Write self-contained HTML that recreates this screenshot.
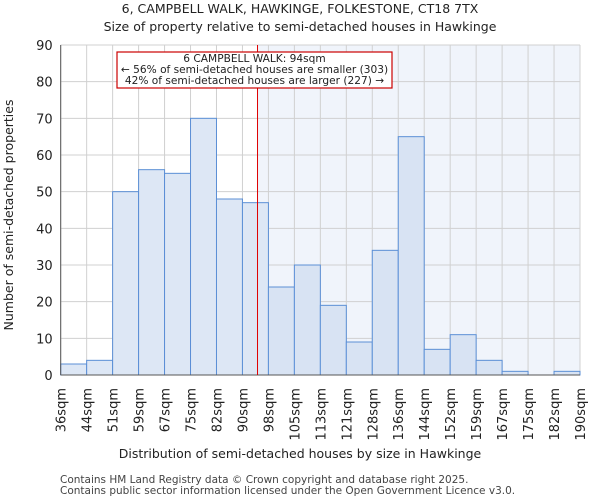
<!DOCTYPE html>
<html><head><meta charset="utf-8"><style>
body{margin:0;background:#fff;font-family:"DejaVu Sans","Liberation Sans",sans-serif;}
</style></head><body>
<svg width="600" height="500" xmlns="http://www.w3.org/2000/svg" font-family="DejaVu Sans, Liberation Sans, sans-serif">
<g id="root"></g>
</svg>
<script>
const categories=["36sqm","44sqm","51sqm","59sqm","67sqm","75sqm","82sqm","90sqm","98sqm","105sqm","113sqm","121sqm","128sqm","136sqm","144sqm","152sqm","159sqm","167sqm","175sqm","182sqm","190sqm"];
const counts=[3,4,50,56,55,70,48,47,24,30,19,9,34,65,7,11,4,1,0,1];
const yTicks=[0,10,20,30,40,50,60,70,80,90];
const markerBin=7.58;
const L=60.7,R=580,T=45,B=375,yMax=90;
const bw=(R-L)/counts.length;
const x=i=>L+i*bw;
const y=v=>B-(v/yMax)*(B-T);
const NS="http://www.w3.org/2000/svg";
const root=document.getElementById('root');
function mk(t,a,txt){const e=document.createElementNS(NS,t);for(const k in a)e.setAttribute(k,a[k]);if(txt!=null)e.textContent=txt;root.appendChild(e);return e;}
const mx=x(markerBin);
let e;
e=mk('rect',{x:mx,y:T,width:R-mx,height:B-T,fill:'#f0f4fb'});


for(let i=0;i<=counts.length;i++){e=mk('line',{x1:x(i),x2:x(i),y1:T,y2:B,stroke:'#d0d0d0','stroke-width':1});

}
yTicks.forEach(v=>{e=mk('line',{x1:L,x2:R,y1:y(v),y2:y(v),stroke:'#d0d0d0','stroke-width':1});


e=mk('text',{x:L-8,y:y(v)+5,'text-anchor':'end','font-size':13,fill:'#222'},String(v));

});
counts.forEach((v,i)=>{if(v<=0)return;e=mk('rect',{x:x(i),y:y(v),width:bw,height:B-y(v),fill:(i>=markerBin?'#d8e3f3':'#dde7f5'),stroke:'#5b8fd6','stroke-width':1});

});
categories.forEach((c,i)=>{const cx=x(i),cy=B+8;e=mk('text',{x:cx,y:cy,'text-anchor':'end','font-size':13,fill:'#222',transform:`rotate(-90 ${cx+5} ${cy})`},c);

});
e=mk('line',{x1:L,x2:L,y1:T,y2:B,stroke:'#555'});


e=mk('line',{x1:L,x2:R,y1:B,y2:B,stroke:'#555'});


e=mk('line',{x1:mx,x2:mx,y1:T,y2:B,stroke:'#e00000','stroke-width':1});


e=mk('rect',{x:117,y:52,width:275,height:36,fill:'#fff',stroke:'#cc0000','stroke-width':1.2});


[["6 CAMPBELL WALK: 94sqm",62],["← 56% of semi-detached houses are smaller (303)",73],["42% of semi-detached houses are larger (227) →",84]].forEach(([t,yy])=>{e=mk('text',{x:254.5,y:yy,'text-anchor':'middle','font-size':10.6,fill:'#222'},t);

});
e=mk('text',{x:300,y:13,'text-anchor':'middle','font-size':12.5,fill:'#222'},"6, CAMPBELL WALK, HAWKINGE, FOLKESTONE, CT18 7TX");


e=mk('text',{x:300,y:31,'text-anchor':'middle','font-size':12.5,fill:'#222'},"Size of property relative to semi-detached houses in Hawkinge");


e=mk('text',{x:300,y:458,'text-anchor':'middle','font-size':12.5,fill:'#222'},"Distribution of semi-detached houses by size in Hawkinge");


e=mk('text',{x:13,y:215,'text-anchor':'middle','font-size':12.5,fill:'#222',transform:'rotate(-90 13 215)'},"Number of semi-detached properties");


e=mk('text',{x:60,y:483,'font-size':10.5,fill:'#444'},"Contains HM Land Registry data © Crown copyright and database right 2025.");


e=mk('text',{x:60,y:494,'font-size':10.5,fill:'#444'},"Contains public sector information licensed under the Open Government Licence v3.0.");


</script>
</body></html>
